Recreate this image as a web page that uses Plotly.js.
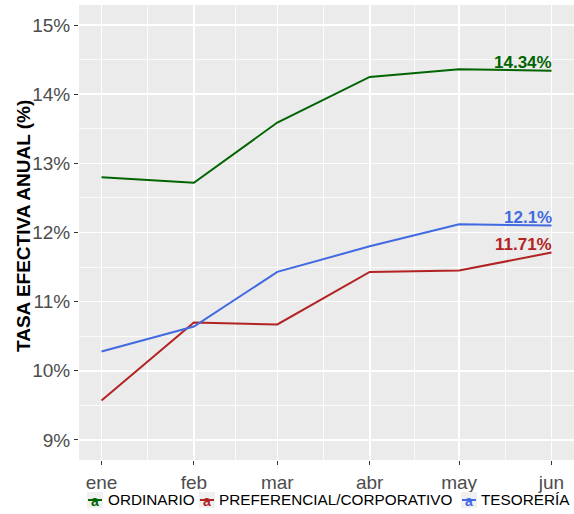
<!DOCTYPE html>
<html><head><meta charset="utf-8">
<script src="https://cdn.plot.ly/plotly-3.0.1.min.js"></script>
<style>html,body{margin:0;padding:0;background:#fff}#c{width:574px;height:514px}</style>
</head><body><div id="c"></div>
<script>
var months = ['2023-01-01','2023-02-01','2023-03-01','2023-04-01','2023-05-01','2023-06-01'];
var monthLabels = ['ene','feb','mar','abr','may','jun'];
var seriesNames = ['ORDINARIO','PREFERENCIAL/CORPORATIVO','TESORERÍA'];
var ordinario = [12.80, 12.72, 13.59, 14.25, 14.36, 14.34];
var preferencial = [9.57, 10.70, 10.67, 11.43, 11.45, 11.71];
var tesoreria = [10.28, 10.64, 11.43, 11.80, 12.12, 12.10];
var colors = ['#006400', '#B22222', '#4169E1'];
var endLabels = ['14.34%', '11.71%', '12.1%'];
var yTitle = 'TASA EFECTIVA ANUAL (%)';

var font = 'Liberation Sans, Arial, sans-serif';
var W = 574, H = 514, ML = 79, MR = 0, MT = 5, MB = 54;
var PW = W - ML - MR, PH = H - MT - MB;
function px(x){ return (x - ML) / PW; }
function py(y){ return (H - MB - y) / PH; }

var all = [ordinario, preferencial, tesoreria];
var traces = all.map(function(v, i){
  return {x: months, y: v, type: 'scatter', mode: 'lines', name: seriesNames[i],
          line: {color: colors[i], width: 2}, showlegend: false};
});
var ms = function(d){ return new Date(d + 'T00:00:00Z').getTime(); };
var t0 = ms(months[0]), t1 = ms(months[months.length-1]);
var pad = (t1 - t0) * 0.05;
var iso = function(t){ return new Date(t).toISOString().slice(0,19).replace('T',' '); };
var minorVals = [];
for (var i = 0; i < months.length - 1; i++) minorVals.push(iso((ms(months[i]) + ms(months[i+1])) / 2));

var annotations = all.map(function(v, i){
  return {x: months[months.length-1], y: v[v.length-1], xref: 'x', yref: 'y',
          text: '<b>' + endLabels[i] + '</b>', showarrow: false,
          xanchor: 'right', yanchor: 'bottom', yshift: -3, xshift: 2,
          font: {family: font, size: 17, color: colors[i]}};
});
annotations.push({xref: 'paper', yref: 'paper', x: px(23), y: py(226), textangle: -90,
  text: '<b>' + yTitle + '</b>', showarrow: false, xanchor: 'center', yanchor: 'middle',
  font: {family: font, size: 19, color: '#000'}});

// manual legend (ggplot style keys)
var keyX = [87, 199, 461];
var textX = [106, 217, 479];
var legY = 500;
var shapes = [];
seriesNames.forEach(function(n, i){
  shapes.push({type: 'rect', xref: 'paper', yref: 'paper', x0: px(keyX[i]), x1: px(keyX[i] + 16),
    y0: py(legY + 8), y1: py(legY - 8), fillcolor: '#F0F0F0', line: {width: 0}, layer: 'above'});
  shapes.push({type: 'line', xref: 'paper', yref: 'paper', x0: px(keyX[i] + 1), x1: px(keyX[i] + 15),
    y0: py(legY), y1: py(legY), line: {color: colors[i], width: 2}, layer: 'above'});
  annotations.push({xref: 'paper', yref: 'paper', x: px(keyX[i] + 8), y: py(legY + 1),
    text: '<b>a</b>', showarrow: false, xanchor: 'center', yanchor: 'middle',
    font: {family: font, size: 14, color: colors[i]}});
  annotations.push({xref: 'paper', yref: 'paper', x: px(textX[i]), y: py(legY),
    text: n, showarrow: false, xanchor: 'left', yanchor: 'middle',
    font: {family: font, size: 15.3, color: '#000'}});
});

var layout = {
  width: W, height: H,
  margin: {l: ML, r: MR, t: MT, b: MB},
  paper_bgcolor: '#ffffff', plot_bgcolor: '#EBEBEB',
  font: {family: font},
  showlegend: false,
  xaxis: {type: 'date', range: [iso(t0 - pad), iso(t1 + pad)],
          tickmode: 'array', tickvals: months, ticktext: monthLabels,
          tickfont: {family: font, size: 19, color: '#4D4D4D'},
          ticks: 'outside', ticklen: 4, tickcolor: '#333', tickwidth: 1, ticklabelstandoff: 1,
          showgrid: true, gridcolor: '#ffffff', gridwidth: 1.6,
          minor: {tickmode: 'array', tickvals: minorVals, showgrid: true, gridcolor: '#ffffff', gridwidth: 0.8, ticks: ''},
          zeroline: false, showline: false, fixedrange: true, automargin: false},
  yaxis: {range: [8.71, 15.29], tickmode: 'linear', tick0: 9, dtick: 1, ticksuffix: '%',
          tickfont: {family: font, size: 19, color: '#4D4D4D'},
          ticks: 'outside', ticklen: 4, tickcolor: '#333', tickwidth: 1,
          showgrid: true, gridcolor: '#ffffff', gridwidth: 1.6,
          minor: {tickmode: 'linear', tick0: 8.5, dtick: 1, showgrid: true, gridcolor: '#ffffff', gridwidth: 0.8, ticks: ''},
          zeroline: false, showline: false, automargin: false},
  annotations: annotations,
  shapes: shapes
};
Plotly.newPlot('c', traces, layout, {displayModeBar: false, staticPlot: true});
</script></body></html>
